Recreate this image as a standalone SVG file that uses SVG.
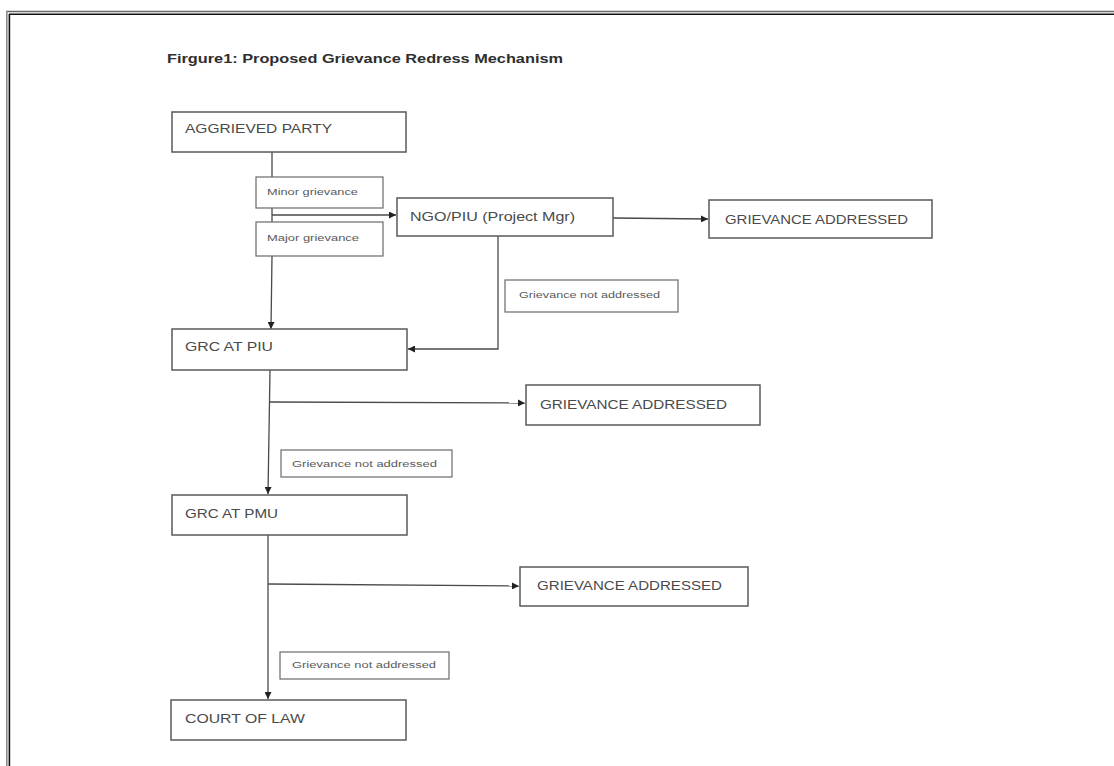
<svg xmlns="http://www.w3.org/2000/svg" width="1114" height="766" viewBox="0 0 1114 766">
<style>
  .box { fill: #ffffff; stroke: #5a5a5a; stroke-width: 1.5; }
  .lbl { fill: #ffffff; stroke: #6a6a6a; stroke-width: 1.2; }
  .t { font-family: "Liberation Sans", Arial, sans-serif; font-size: 13px; fill: #4a4a4a; }
  .s { font-family: "Liberation Sans", Arial, sans-serif; font-size: 8.5px; fill: #5a5a5a; }
  .title { font-family: "Liberation Sans", Arial, sans-serif; font-size: 12.5px; font-weight: bold; fill: #2e2e2e; }
  .c { fill: none; stroke: #4a4a4a; stroke-width: 1.3; }
</style>
<defs>
  <marker id="ah" viewBox="0 0 10 10" refX="10" refY="5" markerWidth="7" markerHeight="7" markerUnits="userSpaceOnUse" orient="auto">
    <path d="M0,0 L10,5 L0,10 z" fill="#222"/>
  </marker>
</defs>
<rect x="0" y="0" width="1114" height="766" fill="#ffffff"/>
<g id="frame">
  <line x1="6" y1="11.5" x2="1114" y2="11.5" stroke="#666" stroke-width="1.6"/>
  <line x1="9" y1="14.2" x2="1114" y2="14.2" stroke="#111" stroke-width="1.4"/>
  <line x1="6.8" y1="11" x2="6.8" y2="766" stroke="#888" stroke-width="1.6"/>
  <line x1="9.4" y1="14" x2="9.4" y2="766" stroke="#111" stroke-width="1.6"/>
</g>
<text class="title" x="167" y="63" textLength="396" lengthAdjust="spacingAndGlyphs">Firgure1: Proposed Grievance Redress Mechanism</text>
<g id="connectors">
  <line class="c" x1="272" y1="152" x2="272" y2="177"/>
  <line class="c" x1="272" y1="208" x2="272" y2="222"/>
  <line class="c" x1="272" y1="215" x2="396" y2="215" marker-end="url(#ah)"/>
  <line class="c" x1="272" y1="256" x2="271" y2="329" marker-end="url(#ah)"/>
  <line class="c" x1="613" y1="218" x2="708" y2="219" marker-end="url(#ah)"/>
  <polyline class="c" points="498,236 498,349 408,349" marker-end="url(#ah)"/>
  <line class="c" x1="270" y1="370" x2="268" y2="494" marker-end="url(#ah)"/>
  <line class="c" x1="270" y1="402" x2="525" y2="403" marker-end="url(#ah)"/>
  <line class="c" x1="268" y1="535" x2="268" y2="699" marker-end="url(#ah)"/>
  <line class="c" x1="268" y1="584" x2="519" y2="586" marker-end="url(#ah)"/>
</g>
<g id="aggrieved">
  <rect class="box" x="172" y="112" width="234" height="40"/>
  <text class="t" x="185" y="133" textLength="147" lengthAdjust="spacingAndGlyphs">AGGRIEVED PARTY</text>
</g>
<g id="minor">
  <rect class="lbl" x="256" y="177" width="127" height="31"/>
  <text class="s" x="267" y="195" textLength="91" lengthAdjust="spacingAndGlyphs">Minor grievance</text>
</g>
<g id="major">
  <rect class="lbl" x="256" y="222" width="127" height="34"/>
  <text class="s" x="267" y="241" textLength="92" lengthAdjust="spacingAndGlyphs">Major grievance</text>
</g>
<g id="ngo">
  <rect class="box" x="397" y="198" width="216" height="38"/>
  <text class="t" x="410" y="221" font-size="14" textLength="165" lengthAdjust="spacingAndGlyphs">NGO/PIU (Project Mgr)</text>
</g>
<g id="addressed1">
  <rect class="box" x="709" y="200" width="223" height="38"/>
  <text class="t" x="725" y="224" textLength="183" lengthAdjust="spacingAndGlyphs">GRIEVANCE ADDRESSED</text>
</g>
<g id="notaddressed1">
  <rect class="lbl" x="505" y="280" width="173" height="32"/>
  <text class="s" x="519" y="298" textLength="141" lengthAdjust="spacingAndGlyphs">Grievance not addressed</text>
</g>
<g id="grc-piu">
  <rect class="box" x="172" y="329" width="235" height="41"/>
  <text class="t" x="185" y="351" textLength="88" lengthAdjust="spacingAndGlyphs">GRC AT PIU</text>
</g>
<g id="addressed2">
  <rect class="box" x="526" y="385" width="234" height="40"/>
  <text class="t" x="540" y="409" textLength="187" lengthAdjust="spacingAndGlyphs">GRIEVANCE ADDRESSED</text>
</g>
<g id="notaddressed2">
  <rect class="lbl" x="281" y="450" width="171" height="27"/>
  <text class="s" x="292" y="467" textLength="145" lengthAdjust="spacingAndGlyphs">Grievance not addressed</text>
</g>
<g id="grc-pmu">
  <rect class="box" x="172" y="495" width="235" height="40"/>
  <text class="t" x="185" y="518" textLength="93" lengthAdjust="spacingAndGlyphs">GRC AT PMU</text>
</g>
<g id="addressed3">
  <rect class="box" x="520" y="567" width="228" height="39"/>
  <text class="t" x="537" y="590" textLength="185" lengthAdjust="spacingAndGlyphs">GRIEVANCE ADDRESSED</text>
</g>
<g id="notaddressed3">
  <rect class="lbl" x="280" y="652" width="169" height="27"/>
  <text class="s" x="292" y="668" textLength="144" lengthAdjust="spacingAndGlyphs">Grievance not addressed</text>
</g>
<g id="court">
  <rect class="box" x="171" y="700" width="235" height="40"/>
  <text class="t" x="185" y="723" textLength="120" lengthAdjust="spacingAndGlyphs">COURT OF LAW</text>
</g>
</svg>
